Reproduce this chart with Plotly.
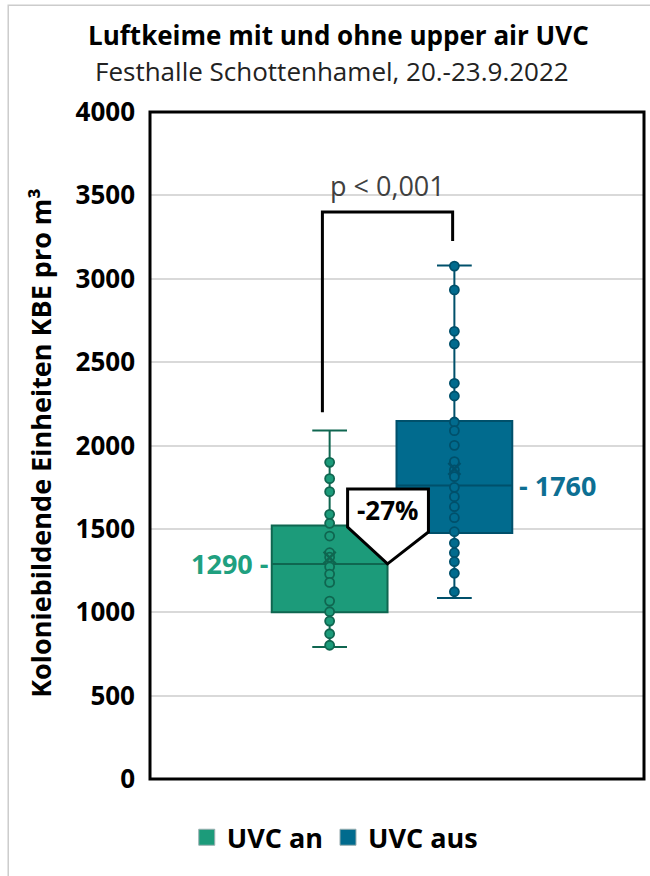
import plotly.graph_objects as go

# ---- data ----
groups = ["UVC an", "UVC aus"]
positions = [0, 1]
q1 = [1000, 1475]
medians = [1290, 1760]
q3 = [1520, 2147]
lower = [792, 1085]
upper = [2090, 3080]
means = [1328, 1860]

points_an = [1899, 1801, 1723, 1587, 1533, 1457, 1357, 1330, 1273, 1229,
             1179, 1067, 1003, 947, 871, 802]
points_aus = [3076, 2933, 2685, 2609, 2373, 2297, 2141, 2089, 2001, 1903,
              1853, 1813, 1749, 1693, 1633, 1567, 1483, 1415, 1357, 1303,
              1234, 1123]
points = [points_an, points_aus]

y_ticks = [0, 500, 1000, 1500, 2000, 2500, 3000, 3500, 4000]

fill_colors = ["#1c9b7a", "#016b8e"]
line_colors = ["#0f6650", "#00506b"]
label_colors = ["#20a07f", "#0d6f93"]

FONT = "Open Sans"

fig = go.Figure()

for i in range(2):
    fig.add_trace(go.Box(
        x=[positions[i]], q1=[q1[i]], median=[medians[i]], q3=[q3[i]],
        lowerfence=[lower[i]], upperfence=[upper[i]],
        fillcolor=fill_colors[i], line=dict(color=line_colors[i], width=2),
        width=0.928, whiskerwidth=0.3, boxpoints=False, showlegend=False,
        hoverinfo="skip",
    ))
    fig.add_trace(go.Scatter(
        x=[positions[i]] * len(points[i]), y=points[i], mode="markers",
        marker=dict(symbol="circle", size=9, color=fill_colors[i],
                    line=dict(color=line_colors[i], width=1.8)),
        showlegend=False, hoverinfo="skip",
    ))
    fig.add_trace(go.Scatter(
        x=[positions[i]], y=[means[i]], mode="markers",
        marker=dict(symbol="x-thin", size=12, color=line_colors[i],
                    line=dict(color=line_colors[i], width=2.5)),
        showlegend=False, hoverinfo="skip",
    ))

# legend entries
for i in range(2):
    fig.add_trace(go.Scatter(
        x=[None], y=[None], mode="markers", name=f"<b>{groups[i]}</b>",
        marker=dict(symbol="square", size=20, color=fill_colors[i],
                    line=dict(color="#9aaeb0", width=1)),
    ))

# bracket
bx0, bx1 = -0.058, 0.986
fig.add_shape(type="path",
              path=f"M {bx0},2200 L {bx0},3400 L {bx1},3400 L {bx1},3226",
              line=dict(color="black", width=3), xref="x", yref="y")

# pentagon callout
px_l, px_r, px_m = 0.144, 0.792, 0.464
fig.add_shape(type="path",
              path=f"M {px_l},1739 L {px_r},1739 L {px_r},1481 L {px_m},{medians[0]} L {px_l},1511 Z",
              line=dict(color="black", width=3), fillcolor="white",
              xref="x", yref="y")

# plot border
fig.add_shape(type="rect", xref="paper", yref="paper", x0=0, x1=1, y0=0, y1=1,
              line=dict(color="black", width=3), layer="above")
# outer frame
fig.add_shape(type="rect", xref="paper", yref="paper", x0=-0.287, x1=1.1,
              y0=-0.2, y1=1.160, line=dict(color="#cccccc", width=1.5))

ann = []
ann.append(dict(x=0.464, y=1613, xref="x", yref="y", text="<b>-27%</b>",
                font=dict(family=FONT, size=26, color="black")))
ann.append(dict(x=-0.48, y=medians[0], xref="x", yref="y",
                text=f"<b>{medians[0]} -</b>", xanchor="right",
                font=dict(family=FONT, size=27, color=label_colors[0])))
ann.append(dict(x=1.504, y=medians[1], xref="x", yref="y",
                text=f"<b>- {medians[1]}</b>", xanchor="left",
                font=dict(family=FONT, size=27, color=label_colors[1])))
ann.append(dict(x=0.464, y=3562, xref="x", yref="y", text="p < 0,001",
                font=dict(family=FONT, size=27, color="#404040")))
ann.append(dict(x=0.382, y=1.116, xref="paper", yref="paper",
                text="<b>Luftkeime mit und ohne upper air UVC</b>",
                font=dict(family=FONT, size=26, color="black")))
ann.append(dict(x=0.368, y=1.061, xref="paper", yref="paper",
                text="Festhalle Schottenhamel, 20.-23.9.2022",
                font=dict(family=FONT, size=26, color="#222222")))
ann.append(dict(x=-0.222, y=0.503, xref="paper", yref="paper", textangle=-90,
                text="<b>Koloniebildende Einheiten KBE pro m³</b>", xanchor="center",
                font=dict(family=FONT, size=27, color="black")))
for a in ann:
    a["showarrow"] = False
    a["yanchor"] = "middle"
    a.setdefault("xanchor", "center")

fig.update_layout(
    width=650, height=876, autosize=False,
    margin=dict(l=150, r=6, t=112, b=97),
    paper_bgcolor="white", plot_bgcolor="white",
    annotations=ann,
    showlegend=True,
    legend=dict(orientation="h", x=0.374, y=-0.088, xanchor="center",
                yanchor="middle", font=dict(family=FONT, size=27, color="black"),
                itemwidth=30, tracegroupgap=0),
    xaxis=dict(range=[-1.44, 2.52], showgrid=False, showticklabels=False,
               zeroline=False, showline=False),
    yaxis=dict(range=[0, 4000], tickvals=y_ticks,
               ticktext=[f"<b>{v}</b>" for v in y_ticks],
               showgrid=True, gridcolor="#d9d9d9", gridwidth=1.5,
               zeroline=False, showline=False, ticks="",
               ticklabelstandoff=14,
               tickfont=dict(family=FONT, size=26, color="black")),
)

fig.write_html("out.html", config={"displayModeBar": False},
               post_script="document.body.style.margin='0';document.body.style.overflow='hidden';")
